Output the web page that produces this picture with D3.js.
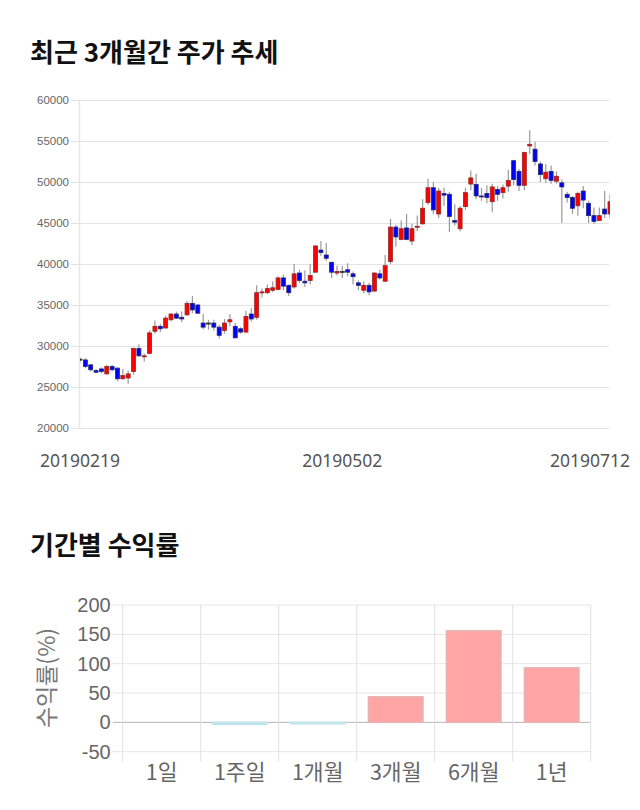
<!DOCTYPE html>
<html>
<head>
<meta charset="utf-8">
<script src="https://cdn.jsdelivr.net/npm/d3@7"></script>
<style>
  html, body { margin: 0; padding: 0; background: #fff; }
  svg { display: block; }
</style>
</head>
<body>
<svg id="chart" width="640" height="810"></svg>
<script>
// ---------- Data: candlestick (price, KRW) ----------
const openP = [28400,28300,27700,27000,27200,26600,27500,27300,26000,26100,
  26900,29700,28700,29100,31800,32400,32200,33200,33900,33500,
  33800,35200,35000,32800,32800,32800,32300,31900,32950,32400,
  32100,31700,33900,33500,36500,36500,36800,36900,38300,37400,
  37200,38900,37900,38000,39000,41700,41100,40200,38900,39100,
  39300,38800,37700,36800,37400,36700,38800,37900,40300,44500,
  43000,44400,42800,44500,44900,47500,49300,46100,48600,48500,
  45300,44300,47000,49750,49700,48300,48600,47600,49100,48700,
  49500,52600,51300,49600,54400,54000,52200,50400,51300,50100,
  49900,48500,48100,47100,48900,47400,45900,45300,46700,46100];
const highP = [28600,28500,27800,27200,27400,27700,27700,27400,27200,27000,
  29800,30200,29100,31900,33100,32700,33700,34000,34200,34200,
  35500,36100,35100,33900,33200,33200,32600,33300,33900,32800,
  32300,34300,34600,37400,37000,37500,37900,38500,38700,37500,
  40000,39300,39200,40000,42300,42800,42600,40300,39800,39800,
  40100,39100,38000,37900,37700,39000,39300,41100,45500,44800,
  45300,46100,44900,45900,47900,50400,50000,49300,49300,48800,
  47300,47100,49300,51400,51000,49300,49600,49800,49500,49700,
  51500,52700,51600,53700,56300,54900,52500,52200,52000,51300,
  50300,48800,48300,48800,49500,47700,46900,46900,48900,48500];
const lowP = [28000,27300,26900,26700,26700,26500,26900,25700,25900,25400,
  26500,28700,28100,29000,31500,31700,32100,33000,33300,32900,
  33700,34000,33900,32000,32000,31900,30900,31500,32400,30900,
  31500,31600,33000,33200,35900,36300,36600,36800,36800,36100,
  37000,37700,37200,37500,39000,41000,40400,38300,38600,38300,
  38500,37500,36800,36400,36200,36600,38100,37800,40000,42100,
  42900,42900,42300,44000,44800,47200,46100,45600,47100,43900,
  44700,44000,46600,49000,47900,47700,47400,46300,47700,48000,
  48800,49600,48900,49000,53400,52000,50000,49900,49800,49800,
  45000,47500,46100,45900,46800,45000,44900,45300,45600,45600];
const closeP = [28400,27500,27100,26800,26900,27500,27100,26000,26400,26600,
  29700,28800,28800,31600,32400,32100,33400,33900,33400,33300,
  35200,34400,34000,32300,32800,32300,31300,32800,33200,31000,
  31700,33600,33300,36500,36600,37000,37100,38300,37300,36500,
  38800,38000,37700,38600,42200,41400,40700,39000,39100,39100,
  39000,38450,37400,37400,36600,38900,38300,39800,44500,43300,
  44300,43000,44300,44600,46800,49300,46600,48900,48400,45800,
  45100,46800,48700,50500,48300,48200,48100,49400,48500,49300,
  50200,50300,49600,53600,54600,52500,50900,51200,50200,50700,
  49400,48100,46800,48600,47800,45900,45200,45900,46100,47600];
const priceTicks = [20000,25000,30000,35000,40000,45000,50000,55000,60000];
const dateLabels = [
  { index: 0,  label: "20190219" },
  { index: 49, label: "20190502" },
  { index: 99, label: "20190712" }
];

// ---------- Data: period returns (%) ----------
const periods = ["1일","1주일","1개월","3개월","6개월","1년"];
const returns = [0, -3.5, -2.5, 43.6, 156, 93];
const returnTicks = [-50, 0, 50, 100, 150, 200];

const svg = d3.select("#chart");
const KR = "'Noto Sans CJK KR', 'Noto Sans', sans-serif";

// ---------- Titles ----------
svg.append("text").attr("x", 30).attr("y", 62)
  .attr("font-family", KR).attr("font-weight", "bold").attr("font-size", 26)
  .attr("fill", "#111").text("최근 3개월간 주가 추세");
svg.append("text").attr("x", 30).attr("y", 555)
  .attr("font-family", KR).attr("font-weight", "bold").attr("font-size", 26)
  .attr("fill", "#111").text("기간별 수익률");

// ---------- Candlestick chart ----------
const c = { left: 80, right: 610, top: 100, bottom: 428 };
const n = openP.length;
const x1 = d3.scaleLinear().domain([0, n - 1]).range([c.left, c.right]);
const y1 = d3.scaleLinear().domain([20000, 60000]).range([c.bottom, c.top]);

const g1 = svg.append("g");
g1.selectAll("line.hg").data(priceTicks).enter().append("line")
  .attr("x1", c.left - 9).attr("x2", c.right - 1)
  .attr("y1", d => y1(d) + 0.5).attr("y2", d => y1(d) + 0.5)
  .attr("stroke", "#e3e3e3").attr("stroke-width", 1);
g1.append("line").attr("x1", c.left - 0.5).attr("x2", c.left - 0.5)
  .attr("y1", c.top).attr("y2", c.bottom + 0.5)
  .attr("stroke", "#e6e6e6").attr("stroke-width", 1.5);
g1.selectAll("text.yt").data(priceTicks).enter().append("text")
  .attr("x", c.left - 11).attr("y", d => y1(d)).attr("dy", "0.35em")
  .attr("text-anchor", "end")
  .attr("font-family", "'Liberation Sans', Arial, sans-serif").attr("font-size", 11.5)
  .attr("fill", "#666").text(d => d);
g1.selectAll("text.xt").data(dateLabels).enter().append("text")
  .attr("x", d => Math.min(x1(d.index), 630 - 40))
  .attr("y", 467).attr("text-anchor", "middle")
  .attr("font-family", "'Noto Sans', sans-serif").attr("font-size", 17.5)
  .attr("fill", "#555").text(d => d.label);

svg.append("clipPath").attr("id", "plotclip").append("rect")
  .attr("x", c.left).attr("y", c.top - 10)
  .attr("width", c.right - c.left).attr("height", c.bottom - c.top + 20);

const candles = g1.append("g").attr("clip-path", "url(#plotclip)")
  .selectAll("g").data(d3.range(n)).enter().append("g");
candles.append("line")
  .attr("x1", i => x1(i)).attr("x2", i => x1(i))
  .attr("y1", i => y1(highP[i])).attr("y2", i => y1(lowP[i]))
  .attr("stroke", "#9a9a9a").attr("stroke-width", 1.2);
const bodyW = 4;
candles.append("rect")
  .attr("x", i => x1(i) - bodyW / 2)
  .attr("y", i => y1(Math.max(openP[i], closeP[i])))
  .attr("width", bodyW)
  .attr("height", i => Math.max(1, Math.abs(y1(openP[i]) - y1(closeP[i]))))
  .attr("fill", i => closeP[i] > openP[i] ? "#ff0000" : (closeP[i] < openP[i] ? "#0000ff" : "#333"))
  .attr("stroke", i => closeP[i] > openP[i] ? "#8c2a2a" : (closeP[i] < openP[i] ? "#2a2a6a" : "#333"))
  .attr("stroke-width", 0.8);

// ---------- Returns bar chart ----------
const b = { left: 122.7, right: 590.7, top: 605, bottom: 751.7 };
const x2 = d3.scaleBand().domain(periods).range([b.left, b.right]).padding(0);
const y2 = d3.scaleLinear().domain([-50, 200]).range([b.bottom, b.top]);
const g2 = svg.append("g");

g2.selectAll("line.hg").data(returnTicks).enter().append("line")
  .attr("x1", b.left - 10).attr("x2", b.right)
  .attr("y1", d => y2(d)).attr("y2", d => y2(d))
  .attr("stroke", d => d === 0 ? "#b5b5b5" : "#e6e6e6").attr("stroke-width", 1);
const edges = periods.map(p => x2(p)).concat([b.right]);
g2.selectAll("line.vg").data(edges).enter().append("line")
  .attr("x1", d => d).attr("x2", d => d)
  .attr("y1", b.top).attr("y2", b.bottom + 10)
  .attr("stroke", "#e2e2e2").attr("stroke-width", 1);

const barW = x2.bandwidth() * 0.7;
g2.selectAll("rect.bar").data(periods).enter().append("rect")
  .attr("x", (p) => x2(p) + (x2.bandwidth() - barW) / 2)
  .attr("y", (p, i) => y2(Math.max(0, returns[i])))
  .attr("width", barW)
  .attr("height", (p, i) => Math.abs(y2(returns[i]) - y2(0)))
  .attr("fill", (p, i) => returns[i] >= 0 ? "#ffa5a5" : "#a4e3ee")
  .attr("stroke", (p, i) => returns[i] >= 0 ? "#e9b3b3" : "#c3e5ec")
  .attr("stroke-width", 1.5);

g2.selectAll("text.yt").data(returnTicks).enter().append("text")
  .attr("x", b.left - 12).attr("y", d => y2(d)).attr("dy", "0.35em")
  .attr("text-anchor", "end")
  .attr("font-family", "'Liberation Sans', Arial, sans-serif").attr("font-size", 20)
  .attr("fill", "#666").text(d => d);
g2.selectAll("text.xt").data(periods).enter().append("text")
  .attr("x", p => x2(p) + x2.bandwidth() / 2).attr("y", 780)
  .attr("text-anchor", "middle")
  .attr("font-family", KR).attr("font-size", 21.5)
  .attr("fill", "#666").text(p => p);
svg.append("text")
  .attr("transform", "translate(55,678) rotate(-90)")
  .attr("text-anchor", "middle")
  .attr("font-family", KR).attr("font-size", 23)
  .attr("fill", "#777").text("수익률(%)");
</script>
</body>
</html>
